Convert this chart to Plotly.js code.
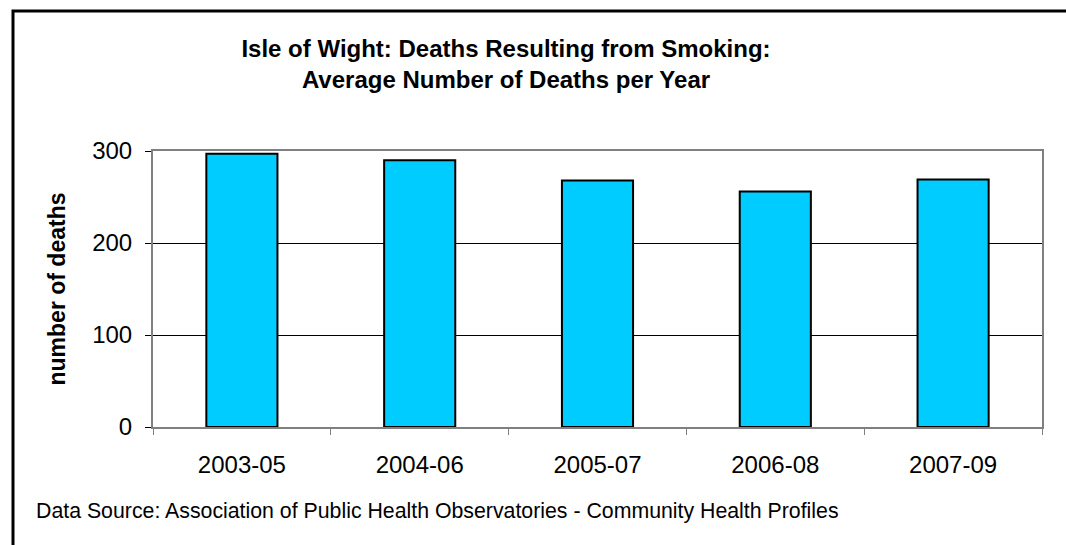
<!DOCTYPE html>
<html>
<head>
<meta charset="utf-8">
<script src="https://cdn.plot.ly/plotly-3.0.1.min.js"></script>
<style>
html,body{margin:0;padding:0;background:#fff;}
#chart{width:1066px;height:545px;}
</style>
</head>
<body>
<div id="chart"></div>
<script>
var categories = ["2003-05", "2004-06", "2005-07", "2006-08", "2007-09"];
var deaths = [297, 290, 268, 256, 269];
var yTickVals = [0, 100, 200, 300];

var W = 1066, H = 545;
var L = 153, R = 24, T = 151, B = 118;
var pw = W - L - R, ph = H - T - B;
function px(x){ return (x - L) / pw; }
function py(y){ return (H - B - y) / ph; }

var font = "Liberation Sans, Arial, sans-serif";

var data = [{
  type: "bar",
  x: categories,
  y: deaths,
  marker: {color: "#00CCFF", line: {color: "#000000", width: 2}},
  hoverinfo: "x+y"
}];

var layout = {
  width: W, height: H,
  margin: {l: L, r: R, t: T, b: B},
  paper_bgcolor: "#ffffff",
  plot_bgcolor: "#ffffff",
  showlegend: false,
  bargap: 0.6,
  font: {family: font, color: "#000"},
  title: {
    text: "<b>Isle of Wight: Deaths Resulting from Smoking:<br>Average Number of Deaths per Year</b>",
    font: {family: font, size: 24, color: "#000"},
    x: 506 / W, xref: "container", xanchor: "center",
    y: 1 - 57 / H, yref: "container", yanchor: "middle"
  },
  xaxis: {
    type: "category",
    showline: true, linecolor: "#808080", linewidth: 2, mirror: true,
    ticks: "outside", ticklen: 6, tickcolor: "#808080", tickwidth: 1,
    tickson: "boundaries",
    ticklabelstandoff: 15,
    tickfont: {family: font, size: 24, color: "#000"},
    showgrid: false, zeroline: false,
    fixedrange: true
  },
  yaxis: {
    range: [0, 300],
    tickvals: yTickVals,
    ticktext: yTickVals.map(String),
    showline: true, linecolor: "#808080", linewidth: 2, mirror: true,
    ticks: "outside", ticklen: 6, tickcolor: "#000", tickwidth: 1,
    ticklabelstandoff: 8,
    tickfont: {family: font, size: 24, color: "#000"},
    showgrid: true, gridcolor: "#000", gridwidth: 1,
    zeroline: false,
    title: {text: "<b>number of deaths</b>", font: {family: font, size: 23, color: "#000"}, standoff: 20},
    fixedrange: true
  },
  annotations: [{
    text: "Data Source: Association of Public Health Observatories - Community Health Profiles",
    xref: "paper", yref: "paper",
    x: px(34), y: py(511),
    xanchor: "left", yanchor: "middle",
    showarrow: false,
    font: {family: font, size: 21.3, color: "#000"}
  }],
  shapes: [{
    type: "path",
    xref: "paper", yref: "paper",
    path: "M " + px(13) + "," + py(560) + " L " + px(13) + "," + py(11) + " L " + px(1080) + "," + py(11),
    line: {color: "#000", width: 3}
  }]
};

Plotly.newPlot("chart", data, layout, {displayModeBar: false, staticPlot: true});
</script>
</body>
</html>
